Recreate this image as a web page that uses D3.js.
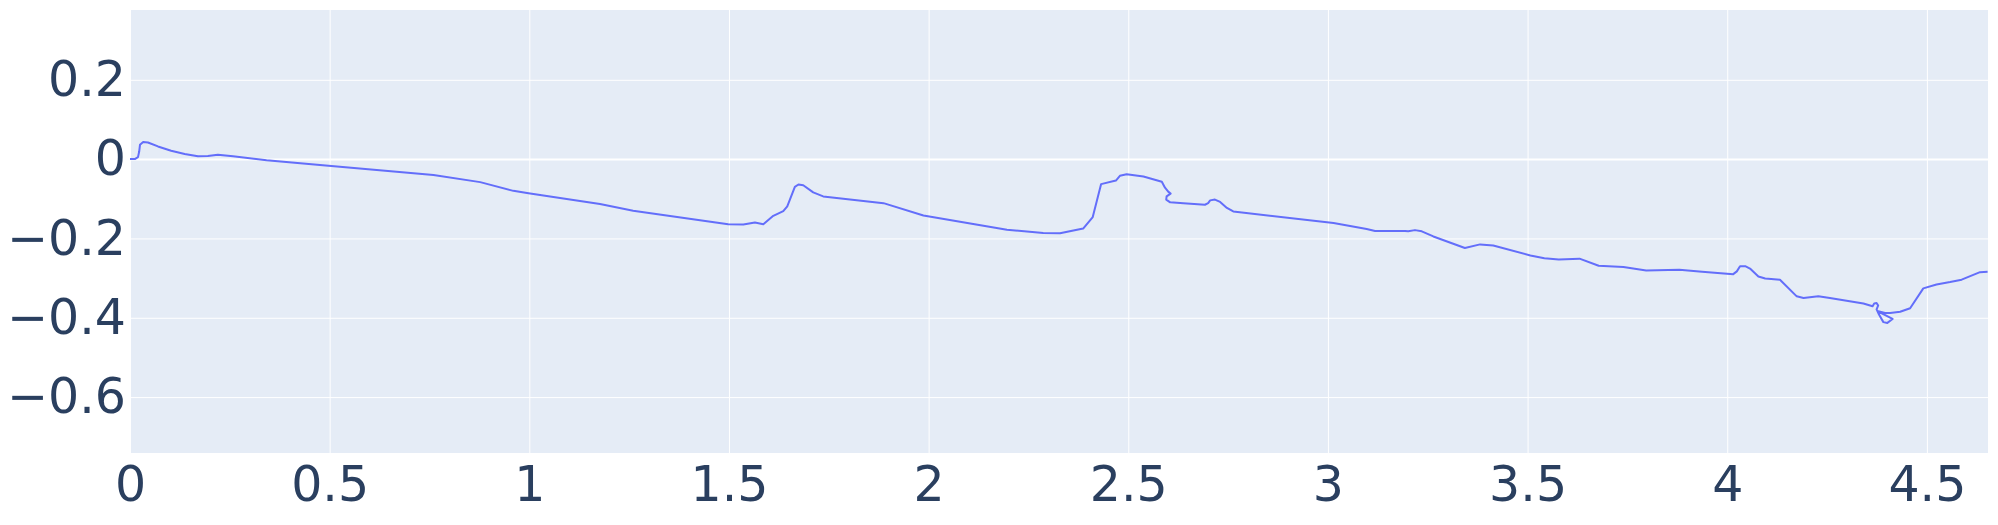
<!DOCTYPE html>
<html>
<head>
<meta charset="utf-8">
<script src="https://cdn.jsdelivr.net/npm/d3@7"></script>
<style>
  html, body { margin: 0; padding: 0; background: #fff; }
  svg { display: block; }
</style>
</head>
<body>
<svg id="chart" width="1998" height="525"></svg>
<script>
// ---- data ----
const xValues = [
  0, 0.012, 0.020, 0.023, 0.025, 0.033, 0.045, 0.070, 0.103, 0.137,
  0.170, 0.195, 0.220, 0.258, 0.342, 0.497, 0.760, 0.877, 0.960, 0.998,
  1.052, 1.177, 1.260, 1.498, 1.536, 1.565, 1.586, 1.611, 1.636, 1.646,
  1.665, 1.674, 1.686, 1.711, 1.736, 1.887, 1.987, 2.196, 2.287, 2.329,
  2.387, 2.411, 2.432, 2.469, 2.479, 2.496, 2.538, 2.584, 2.592, 2.600,
  2.606, 2.596, 2.595, 2.605, 2.638, 2.692, 2.700, 2.705, 2.717, 2.730,
  2.747, 2.763, 3.014, 3.097, 3.118, 3.193, 3.201, 3.218, 3.235, 3.264,
  3.343, 3.381, 3.414, 3.507, 3.542, 3.578, 3.630, 3.678, 3.740, 3.797,
  3.880, 3.937, 4.015, 4.024, 4.032, 4.045, 4.057, 4.078, 4.095, 4.132,
  4.174, 4.191, 4.228, 4.257, 4.341, 4.364, 4.368, 4.374, 4.378, 4.374,
  4.380, 4.391, 4.401, 4.414, 4.376, 4.395, 4.408, 4.433, 4.458, 4.491,
  4.524, 4.558, 4.587, 4.633, 4.652
];
const yValues = [
  0, 0.000, 0.005, 0.019, 0.036, 0.043, 0.042, 0.032, 0.021, 0.013,
  0.007, 0.008, 0.011, 0.007, -0.003, -0.017, -0.040, -0.058, -0.080, -0.086,
  -0.094, -0.113, -0.130, -0.164, -0.165, -0.160, -0.164, -0.143, -0.131, -0.119,
  -0.070, -0.064, -0.066, -0.084, -0.094, -0.111, -0.142, -0.178, -0.186, -0.187,
  -0.175, -0.146, -0.063, -0.054, -0.042, -0.038, -0.044, -0.057, -0.072, -0.082,
  -0.087, -0.094, -0.102, -0.109, -0.111, -0.115, -0.111, -0.104, -0.102, -0.108,
  -0.123, -0.132, -0.161, -0.176, -0.181, -0.181, -0.182, -0.179, -0.182, -0.195,
  -0.224, -0.215, -0.218, -0.243, -0.250, -0.253, -0.251, -0.269, -0.272, -0.281,
  -0.279, -0.284, -0.290, -0.283, -0.270, -0.270, -0.276, -0.296, -0.301, -0.304,
  -0.346, -0.350, -0.346, -0.350, -0.364, -0.371, -0.364, -0.363, -0.369, -0.379,
  -0.392, -0.411, -0.413, -0.403, -0.383, -0.388, -0.388, -0.385, -0.376, -0.326,
  -0.316, -0.310, -0.304, -0.285, -0.284
];
const xTicks = [0, 0.5, 1, 1.5, 2, 2.5, 3, 3.5, 4, 4.5];
const yTicks = [-0.6, -0.4, -0.2, 0, 0.2];
const xRange = [0, 4.653];
const yRange = [-0.741, 0.376];

// ---- layout ----
const W = 1998, H = 525;
const margin = { left: 130, right: 10, top: 10, bottom: 72 };
const w = W - margin.left - margin.right;
const h = H - margin.top - margin.bottom;
const fontFamily = '"DejaVu Sans", sans-serif';
const textColor = '#2a3f5f';

const svg = d3.select('#chart');
const g = svg.append('g').attr('transform', `translate(${margin.left},${margin.top})`);

g.append('rect').attr('width', w).attr('height', h).attr('fill', '#E5ECF6');

const x = d3.scaleLinear().domain(xRange).range([0, w]);
const y = d3.scaleLinear().domain(yRange).range([h, 0]);
const fmt = d3.format('~g');

// x axis with grid
const xAxis = g.append('g')
  .attr('transform', `translate(0,${h})`)
  .call(d3.axisBottom(x).tickValues(xTicks).tickFormat(fmt).tickSize(-h).tickPadding(13));
xAxis.select('.domain').remove();
xAxis.selectAll('line').attr('stroke', '#fff').attr('stroke-width', 1);
xAxis.selectAll('text').attr('fill', textColor).style('font-family', fontFamily).style('font-size', '49px');

// y axis with grid
const yAxis = g.append('g')
  .call(d3.axisLeft(y).tickValues(yTicks).tickFormat(fmt).tickSize(-w).tickPadding(4));
yAxis.select('.domain').remove();
yAxis.selectAll('line').attr('stroke', '#fff').attr('stroke-width', d => d === 0 ? 2 : 1);
yAxis.selectAll('text').attr('fill', textColor).style('font-family', fontFamily).style('font-size', '49px');

// clip
svg.append('defs').append('clipPath').attr('id', 'clip')
  .append('rect').attr('width', w).attr('height', h);

const pts = xValues.map((v, i) => [v, yValues[i]]);
const line = d3.line().x(d => x(d[0])).y(d => y(d[1]));
g.append('path')
  .attr('clip-path', 'url(#clip)')
  .attr('d', line(pts))
  .attr('fill', 'none')
  .attr('stroke', '#636efa')
  .attr('stroke-width', 2)
  .attr('stroke-linejoin', 'round');
</script>
</body>
</html>
